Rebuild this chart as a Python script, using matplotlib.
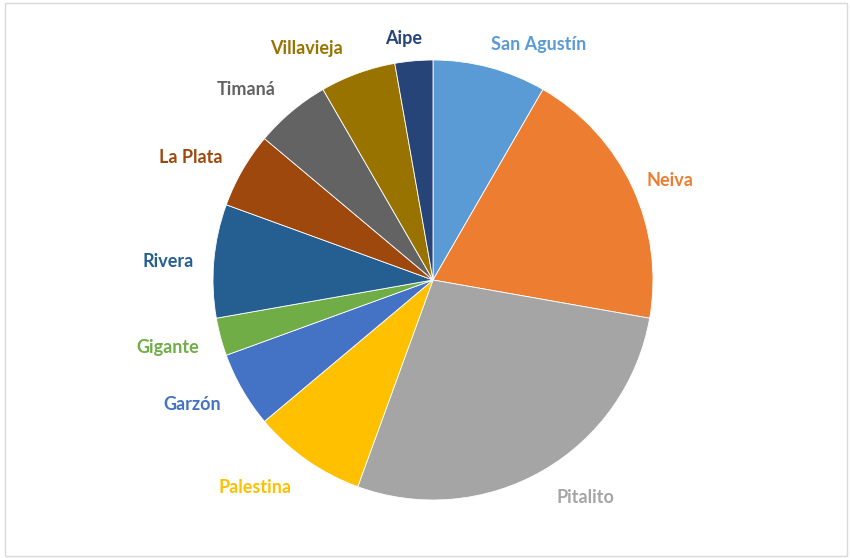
import matplotlib
matplotlib.use("Agg")
import numpy as np
import matplotlib.pyplot as plt
from matplotlib.patches import Rectangle

# municipios, en sentido horario desde arriba
municipios = ["San Agustín", "Neiva", "Pitalito", "Palestina", "Garzón", "Gigante",
              "Rivera", "La Plata", "Timaná", "Villavieja", "Aipe"]
valores = [3, 7, 10, 3, 2, 1, 3, 2, 2, 2, 1]
colores = ["#5B9BD5", "#ED7D31", "#A5A5A5", "#FFC000", "#4472C4", "#70AD47",
           "#255E91", "#9E480E", "#636363", "#997300", "#264478"]

# label nudges (pixels, x right / y down) to mimic Excel's best-fit placement
nudges = [(37, 20), (-2, 12), (20, -11), (-27, -9), (-12, -7), (-10, -1),
          (-2, 5), (-14, 10), (-17, 12), (-36, 17), (-6, 21)]

fig = plt.figure(figsize=(8.5, 5.58), dpi=100)

# pie centred at (433, 280) px, radius ~220 px
cx, cy, r = 433, 280, 220
W, H = 850, 558
ax = fig.add_axes([(cx - r) / W, (H - cy - r) / H, 2 * r / W, 2 * r / H])

wedges, texts = ax.pie(valores, labels=municipios, colors=colores, startangle=90,
                       counterclock=False, labeldistance=1.2, radius=1,
                       wedgeprops=dict(linewidth=0.6, edgecolor="white"))
for t, c, (dx, dy) in zip(texts, colores, nudges):
    x, y = t.get_position()
    t.set_position((x + dx / r, y - dy / r))
    t.set_color(c)
    t.set_ha("center")
    t.set_va("center")
    t.set_fontfamily(["Lato", "DejaVu Sans"])
    t.set_fontweight("bold")
    t.set_fontsize(13)

ax.set_xlim(-1, 1)
ax.set_ylim(-1, 1)
ax.set_aspect("equal")

# thin frame around the chart area
fig.patches.append(Rectangle((0.006, 0.004), 0.99, 0.99, transform=fig.transFigure,
                             fill=False, edgecolor="#d9d9d9", linewidth=1))

fig.savefig("out.png", dpi=100)
